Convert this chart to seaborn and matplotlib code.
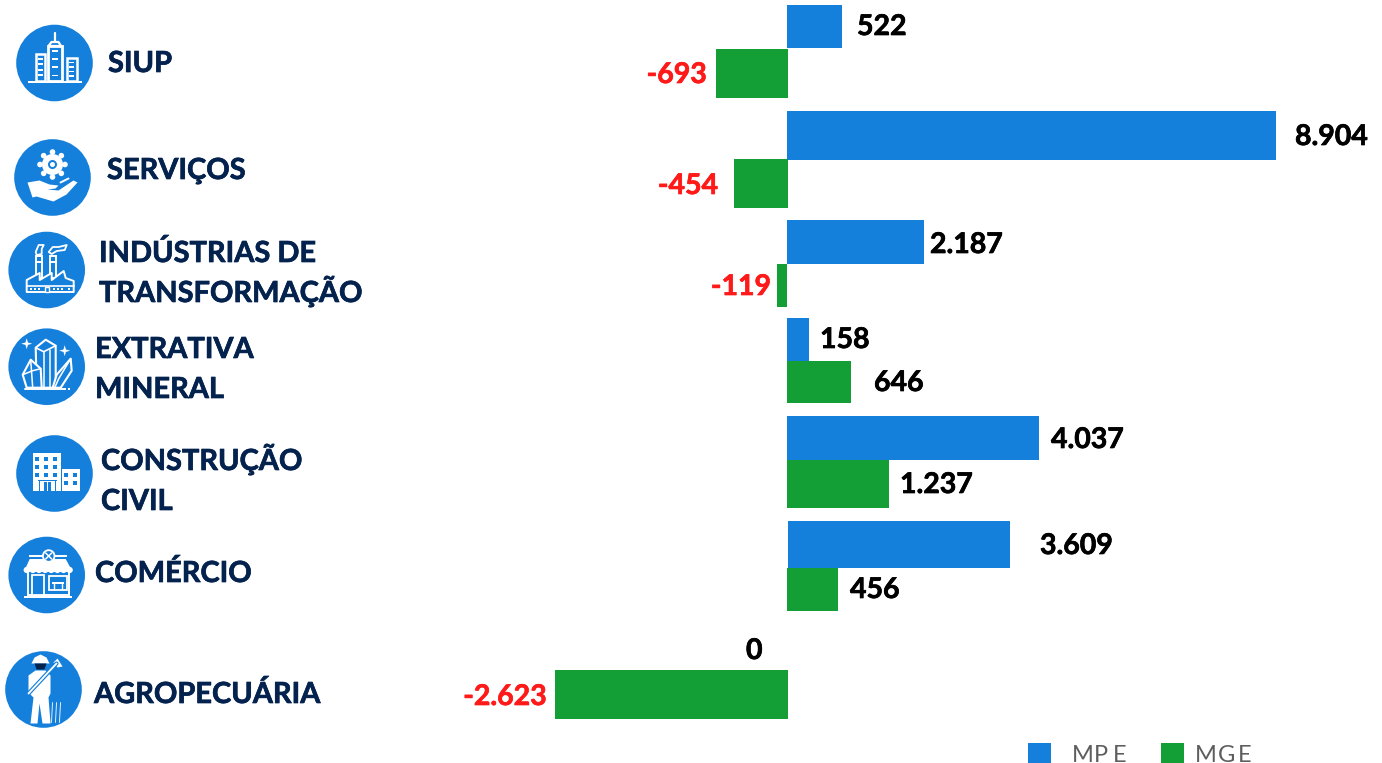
import matplotlib
matplotlib.use("Agg")
import matplotlib.pyplot as plt
import matplotlib.patheffects as pe
from matplotlib.patches import Rectangle, Polygon, Circle
import numpy as np
import pandas as pd
import seaborn as sns

# ---------- data ----------
setores = ["SIUP", "SERVIÇOS", "INDÚSTRIAS DE\nTRANSFORMAÇÃO", "EXTRATIVA\nMINERAL",
           "CONSTRUÇÃO\nCIVIL", "COMÉRCIO", "AGROPECUÁRIA"]
mpe_rotulos = ["522", "8.904", "2.187", "158", "4.037", "3.609", "0"]
mge_rotulos = ["-693", "-454", "-119", "646", "1.237", "456", "-2.623"]
# drawn bar lengths (the source bars are not strictly proportional)
mpe_barras = [55, 489, 137, 22, 252, 222, 0]
mge_barras = [-72, -54, -10, 64, 102, 51, -233]

# ---------- layout ----------
W, H = 1382, 763
ZERO = 787
mpe_y = [(5, 48), (111, 160), (220, 264), (318, 361), (416, 460), (521, 568), (648, 650)]
mge_y = [(49, 98), (159, 208), (264, 307), (361, 403), (460, 508), (568, 611), (670, 719)]
mpe_desl = [0, 0, 0, 0, 0, 1, 0]
mge_desl = [1, 1, 0, 0, 0, 0, 1]
mpe_txt = [(857, 35), (1295, 145), (930, 253), (820, 348), (1051, 448), (1040, 554), (746, 659)]
mge_txt = [(707, 83), (718, 194), (771, 295), (874, 391), (900, 493), (850, 598), (547, 705)]
nome_pos = [(108, [72]), (107, [179]), (99, [262, 302]), (95, [358, 398]), (101, [470, 510]),
            (95, [582]), (94, [703])]
centros = [(54.5, 63), (52.5, 177.5), (46.7, 270), (46.7, 366.7), (54.5, 473.5), (46.7, 575), (43.5, 689.5)]

AZUL, VERDE, NAVY = "#1580dc", "#139f35", "#04224e"

sns.set_theme(style="white")
plt.rcParams["font.family"] = ["Lato", "DejaVu Sans"]

df = pd.DataFrame({
    "setor": setores * 2,
    "porte": ["MPE"] * 7 + ["MGE"] * 7,
    "barra": mpe_barras + mge_barras,
})

fig = plt.figure(figsize=(W / 100, H / 100), dpi=100)
ax = fig.add_axes([0, 0, 1, 1])
sns.barplot(data=df, y="setor", x="barra", hue="porte", order=setores,
            hue_order=["MPE", "MGE"], palette=[AZUL, VERDE], legend=False,
            saturation=1, ax=ax)
for cont, faixas, desl in zip(ax.containers, [mpe_y, mge_y], [mpe_desl, mge_desl]):
    for p, (a, b), d in zip(cont.patches, faixas, desl):
        p.set_y(a)
        p.set_height(b - a)
        p.set_linewidth(0)
        p.set_x(d)
ax.set_xlim(-ZERO, W - ZERO)
ax.set_ylim(H, 0)
ax.axis("off")


# ---------- texts ----------
def forte(cor, w=0.5):
    return [pe.withStroke(linewidth=w, foreground=cor)]


for (x, y), t in zip(mpe_txt, mpe_rotulos):
    ax.text(x - ZERO, y, t, color="black", fontsize=20.5, fontweight="bold", va="baseline", ha="left",
            path_effects=forte("black"))
for (x, y), t in zip(mge_txt, mge_rotulos):
    neg = t.startswith("-")
    cor = "#ff1a1a" if neg else "black"
    ax.text(x - ZERO, y, t, color=cor, fontsize=20.5, fontweight="bold",
            va="baseline", ha="right" if neg else "left", path_effects=forte(cor))
for (x, ys), t in zip(nome_pos, setores):
    for y, linha in zip(ys, t.split("\n")):
        ax.text(x - ZERO, y, linha, color=NAVY, fontsize=20.9, fontweight="bold", va="baseline", ha="left",
                path_effects=forte(NAVY))

# legend
for x, c, nome, tx, passos in [(1028, AZUL, "MPE", 1072, [0, 22, 41]), (1161, VERDE, "MGE", 1195, [0, 23, 43])]:
    ax.add_patch(Rectangle((x - ZERO, 743), 23, 20, fc=c, lw=0))
    for ch, dx in zip(nome, passos):
        ax.text(tx - ZERO + dx, 762, ch, color="#5e5e5e", fontsize=17, va="baseline", ha="left")


# ---------- icons (decoration; offsets relative to each circle centre) ----------
def R(c, x0, y0, x1, y1, fc="white", ec="none", lw=0):
    ax.add_patch(Rectangle((c[0] + x0 - ZERO, c[1] + y0), x1 - x0, y1 - y0, fc=fc, ec=ec, lw=lw, zorder=5))


def P(c, pts, fc="white", ec="none", lw=0, closed=True):
    pts = [(c[0] + x - ZERO, c[1] + y) for x, y in pts]
    ax.add_patch(Polygon(pts, closed=closed, fc=fc, ec=ec, lw=lw, zorder=5, joinstyle="round"))


def L(c, pts, lw=1.2, cor="white", z=6):
    xs = [c[0] + x - ZERO for x, _ in pts]
    ys = [c[1] + y for _, y in pts]
    ax.plot(xs, ys, color=cor, lw=lw, zorder=z, solid_capstyle="round")


def C(c, x, y, r, fc="white", ec="none", lw=0, z=6):
    ax.add_patch(Circle((c[0] + x - ZERO, c[1] + y), r, fc=fc, ec=ec, lw=lw, zorder=z))


for c in centros:
    C(c, 0, 0, 38.3, fc=AZUL, z=4)

# SIUP: city
c = centros[0]
for x0, y0, x1 in [(-19, -9, -9.5), (12, -5.5, 22)]:
    R(c, x0, y0, x1, 18, fc=AZUL, ec="white", lw=1.8)
    for k in range(4):
        yy = y0 + 4 + k * (16.5 - y0 - 4) / 4
        R(c, x0 + 2.5, yy, x1 - 2.5, yy + 1.8)
R(c, -7, -17, 7.5, 18, fc=AZUL, ec="white", lw=2)
P(c, [(-6, -17), (-3, -21), (4, -21), (6.5, -17)], fc=AZUL, ec="white", lw=1.6)
L(c, [(0.5, -21), (0.5, -30)], 1.6)
for k in range(4):
    R(c, -2.5, -13 + k * 8.2, 3.5, -11.2 + k * 8.2)
R(c, -27, 17.5, 27, 20)

# SERVIÇOS: gear over a hand
c = centros[1]
ang = np.linspace(0, 2 * np.pi, 8, endpoint=False)
for a in ang:
    C(c, 12.5 * np.cos(a), -13 + 12.5 * np.sin(a), 2.8)
C(c, 0, -13, 10.5)
C(c, 0, -13, 4.5, fc=AZUL)
C(c, 0, -13, 2.5)
P(c, [(-25, 5), (-13, 3), (-3, 7), (6, 8), (3, 11), (-5, 12), (6, 13), (21, 3), (25, 5), (14, 17),
      (1, 24), (-16, 19), (-20, 20)])
L(c, [(8, 5), (16, 1)], 1.4)

# INDÚSTRIA: factory
c = centros[2]
for x0 in [-11, 3]:
    R(c, x0, -14, x0 + 6.5, 8, fc=AZUL, ec="white", lw=1.4)
    R(c, x0, -9, x0 + 6.5, -7.5)
P(c, [(-11, -18), (-8, -25), (-3, -25), (-5, -21), (-5, -16), (-10, -15)], fc=AZUL, ec="white", lw=1.3)
P(c, [(2, -18), (6, -23), (12, -23), (20, -25), (18, -20), (10, -19), (5, -16)], fc=AZUL, ec="white", lw=1.3)
P(c, [(-20, 22), (-20, 10), (-7, 3), (-7, 10), (5, 3), (5, 10), (17, 1), (19, 8), (27, 11), (27, 22)],
  fc=AZUL, ec="white", lw=1.4)
L(c, [(-20, 16), (27, 16)], 1.2)
for x0 in [-17, -13, -9, 6, 10, 14, 21]:
    R(c, x0, 18, x0 + 2, 20)
R(c, -2, 17, 2, 22, fc=AZUL, ec="white", lw=1)

# EXTRATIVA: crystals
c = centros[3]
P(c, [(-11, -19), (-1, -27), (9, -21), (9, 21), (-10, 21)], fc=AZUL, ec="white", lw=1.5)
L(c, [(-11, -19), (-3, -15), (9, -21)], 1.2)
L(c, [(-3, -15), (-3, 21)], 1.1)
L(c, [(3, -17), (3, 21)], 1.1)
P(c, [(-24, 8), (-16, -7), (-6, 2), (-5, 21), (-20, 21)], fc=AZUL, ec="white", lw=1.5)
L(c, [(-16, -7), (-14, 21)], 1.1)
L(c, [(-24, 8), (-14, 4), (-6, 2)], 1.1)
P(c, [(6, 21), (10, 8), (24, -8), (25, 4), (14, 21)], fc=AZUL, ec="white", lw=1.5)
L(c, [(24, -8), (12, 12), (8, 21)], 1.1)
L(c, [(-22, 22), (18, 22)], 1.4)
for (sx, sy, s) in [(-20, -23, 5.5), (18, -16, 5.5)]:
    k = s * 0.22
    P(c, [(sx - s, sy), (sx - k, sy - k), (sx, sy - s), (sx + k, sy - k), (sx + s, sy), (sx + k, sy + k),
          (sx, sy + s), (sx - k, sy + k)])
R(c, 17, 21, 19, 23)
R(c, 21, 21, 23, 23)

# CONSTRUÇÃO: buildings
c = centros[4]
R(c, -22, -21, 6, 17)
R(c, 7, -5, 25, 17)
for yy in [-17, -9, -1]:
    for xx in [-20, -11, -2]:
        R(c, xx, yy, xx + 4.5, yy + 4, fc=AZUL)
for yy in [-1, 7]:
    for xx in [9, 18]:
        R(c, xx, yy, xx + 4.5, yy + 4, fc=AZUL)
R(c, -17, 6, 2, 7, fc=AZUL)
R(c, -16, 7, -15, 17, fc=AZUL)
R(c, 0, 7, 1, 17, fc=AZUL)
R(c, -11, 8, -4, 17, fc=AZUL)
R(c, -8, 8, -7, 17)

# COMÉRCIO: store
c = centros[5]
R(c, -19, -4, 22, 20, fc=AZUL, ec="white", lw=1.4)
P(c, [(-17, -16), (19, -16), (25, -5), (-22, -5)])
for xx in np.linspace(-20, 23, 8):
    C(c, xx, -5, 3.1, z=5)
R(c, -18, -20, 20, -18)
C(c, 2, -19, 5.8, fc=AZUL, ec="white", lw=1.3)
L(c, [(-1, -22), (5, -16)], 1.1)
L(c, [(5, -22), (-1, -16)], 1.1)
R(c, -15, 0, -3, 20, fc=AZUL, ec="white", lw=1.3)
R(c, 2, 1, 20, 15, fc=AZUL, ec="white", lw=1.3)
R(c, 5, 7, 17, 8.5)
L(c, [(7, 8), (7, 14)], 1)
L(c, [(15, 8), (15, 14)], 1)
R(c, -23, 20.5, 25, 22.5)

# AGROPECUÁRIA: farmer
c = centros[6]
P(c, [(-12, -26), (-9, -32), (-3, -35), (3, -32), (6, -26)])
P(c, [(-9, -26), (3, -26), (1, -20), (-7, -20)], fc=NAVY)
P(c, [(-15, -14), (-8, -19), (2, -19), (7, -14), (7, 4), (5, 8), (7, 34), (-1, 34), (-4, 14), (-6, 34),
      (-13, 34), (-10, 8), (-15, 3)])
L(c, [(-15, 4), (13, -26)], 3.0, cor=AZUL)
L(c, [(-15, 4), (13, -26)], 1.3)
P(c, [(10, -27), (14, -31), (19, -23), (14, -22)])
for xx in [8, 12, 16]:
    L(c, [(xx, 33), (xx + 1, 13)], 0.6)

fig.savefig("out.png", dpi=100)
